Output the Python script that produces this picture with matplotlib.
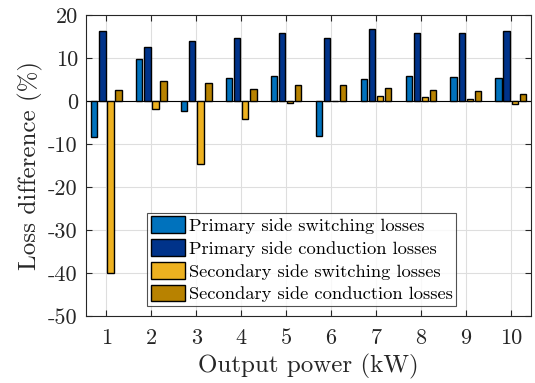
import numpy as np
import matplotlib.pyplot as plt

plt.rcParams['font.family'] = ['cmr10', 'DejaVu Serif']
plt.rcParams['mathtext.fontset'] = 'cm'
plt.rcParams['axes.unicode_minus'] = False

power = np.arange(1, 11)  # kW
prim_sw = [-8.4, 9.8, -2.3, 5.4, 5.8, -8.2, 5.0, 5.8, 5.5, 5.4]
prim_cond = [16.2, 12.6, 14.0, 14.7, 15.9, 14.7, 16.8, 15.9, 15.7, 16.2]
sec_sw = [-40.0, -1.9, -14.6, -4.1, -0.5, 0.1, 1.2, 0.9, 0.5, -0.8]
sec_cond = [2.5, 4.7, 4.1, 2.7, 3.8, 3.7, 3.0, 2.6, 2.3, 1.6]

series = [prim_sw, prim_cond, sec_sw, sec_cond]
labels = ['Primary side switching losses', 'Primary side conduction losses',
          'Secondary side switching losses', 'Secondary side conduction losses']
colors = ['#0072BD', '#00338A', '#EDB120', '#B88200']
offsets = [-0.27, -0.09, 0.09, 0.27]
width = 0.145

fig = plt.figure(figsize=(5.35, 3.83), dpi=100)
ax = fig.add_axes([0.161, 0.175, 0.8315, 0.786])

for vals, lab, col, off in zip(series, labels, colors, offsets):
    ax.bar(power + off, vals, width, color=col, edgecolor='black',
           linewidth=1.0, label=lab, zorder=3)

ax.axhline(0, color='black', linewidth=0.8, zorder=2)
ax.set_xlim(0.55, 10.45)
ax.set_ylim(-50, 20)
ax.set_xticks(power)
ax.set_xticklabels([str(p) for p in power])
yt = np.arange(-50, 21, 10)
ax.set_yticks(yt)
ax.set_yticklabels([str(v) for v in yt])
ax.grid(True, color='#dedede', linewidth=0.8, zorder=0)
ax.tick_params(direction='in', top=True, right=True, length=4,
               labelsize=16, colors='#262626', width=0.8)
ax.tick_params(axis='x', pad=9)
ax.tick_params(axis='y', pad=6)
for s in ax.spines.values():
    s.set_color('#262626')
    s.set_linewidth(0.8)

ax.set_xlabel('Output power (kW)', fontsize=18, color='#262626', labelpad=4)
ax.set_ylabel('Loss difference (%)', fontsize=18, color='#262626', labelpad=4)

leg = ax.legend(loc='lower left', bbox_to_anchor=(0.137, 0.033), fontsize=13.3,
                frameon=True, fancybox=False, edgecolor='#262626',
                handlelength=1.85, handleheight=1.0, handletextpad=0.2,
                labelspacing=0.28, borderpad=0.2, borderaxespad=0)
leg.get_frame().set_linewidth(0.8)

fig.savefig('out.png', dpi=100)
